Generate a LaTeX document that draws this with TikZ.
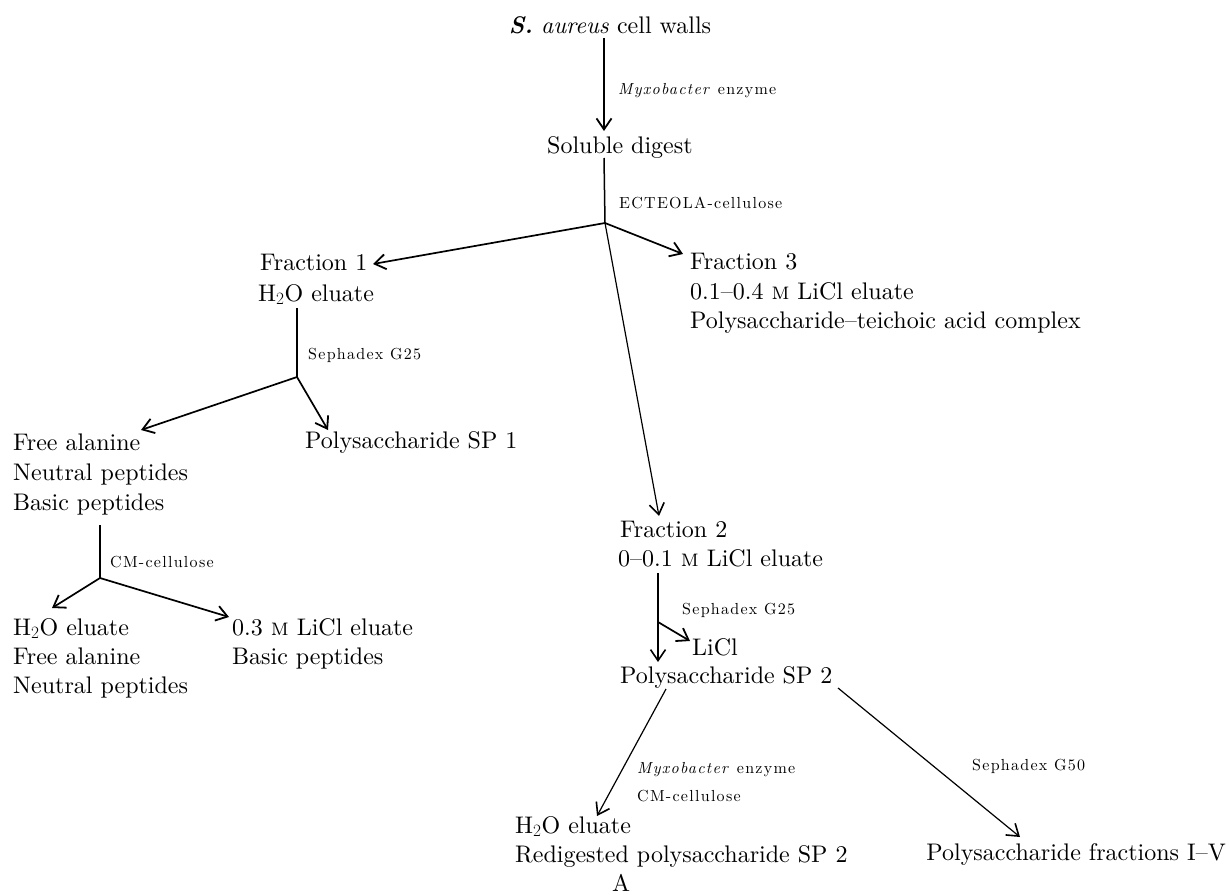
\documentclass[tikz,border=0pt]{standalone}
\usepackage{fontspec}
\setmainfont{lmroman10}[Extension=.otf, UprightFont=*-regular, ItalicFont=*-italic, BoldFont=*-bold, BoldItalicFont=*-bolditalic, SmallCapsFont=lmromancaps10-regular]
\newfontfamily\lblfont{lmroman10}[Extension=.otf, UprightFont=*-regular, ItalicFont=*-italic, LetterSpace=8]
\usetikzlibrary{arrows.meta}
\begin{document}
\begin{tikzpicture}[x=1pt,y=-1pt,
  txt/.style={inner sep=0pt, anchor=base west, font=\fontsize{24}{29}\selectfont},
  lbl/.style={inner sep=0pt, anchor=base west, font=\lblfont\fontsize{16}{19}\selectfont},
  ln/.style={line width=1.5pt},
  arr/.style={line width=1.7pt, -{Straight Barb[length=11pt,width=15pt,line width=1.8pt]}},
  tharr/.style={line width=1.2pt, -{Straight Barb[length=11pt,width=15pt,line width=1.6pt]}}]
\fill[white] (0,0) rectangle (1230,894);
\useasboundingbox (0,0) rectangle (1230,894);

% texts
\node[txt, anchor=base] (walls) at (610,33) {\textbf{\textit{S.}} \textit{aureus} cell walls};
\node[lbl] (myx1) at (618,94) {\textit{Myxobacter} enzyme};
\node[txt] (soluble) at (547,153) {Soluble digest};
\node[lbl] (ecteola) at (619,208) {ECTEOLA-cellulose};

\node[txt] (f1a) at (260,270) {Fraction 1};
\node[txt] (f1b) at (258,301) {H$_2$O eluate};
\node[lbl] (seph1) at (308,359) {Sephadex G25};
\node[txt] (sp1) at (305,448) {Polysaccharide SP 1};
\node[txt] (fa1) at (13,450) {Free alanine};
\node[txt] (np1) at (13,480) {Neutral peptides};
\node[txt] (bp1) at (13,510) {Basic peptides};
\node[lbl] (cm1) at (110,567) {CM-cellulose};
\node[txt] (h2ob) at (13,635) {H$_2$O eluate};
\node[txt] (fa2) at (13,664) {Free alanine};
\node[txt] (np2) at (13,693) {Neutral peptides};
\node[txt] (li03) at (232,635) {0.3 \textsc{m} LiCl eluate};
\node[txt] (bp2) at (232,664) {Basic peptides};

\node[txt] (f3a) at (690,269) {Fraction 3};
\node[txt] (f3b) at (690,299) {0.1--0.4 \textsc{m} LiCl eluate};
\node[txt] (f3c) at (690,328) {Polysaccharide--teichoic acid complex};

\node[txt] (f2a) at (620,537) {Fraction 2};
\node[txt] (f2b) at (618,566) {0--0.1 \textsc{m} LiCl eluate};
\node[lbl] (seph2) at (682,614) {Sephadex G25};
\node[txt] (licl) at (692,655) {LiCl};
\node[txt] (sp2) at (620,683) {Polysaccharide SP 2};
\node[lbl] (myx2) at (637,773) {\textit{Myxobacter} enzyme};
\node[lbl] (cm2) at (637,801) {CM-cellulose};
\node[txt] (h2oc) at (515,833) {H$_2$O eluate};
\node[txt] (redig) at (515,862) {Redigested polysaccharide SP 2};
\node[txt, anchor=base] (A) at (621,891) {A};
\node[lbl] (seph50) at (972,770) {Sephadex G50};
\node[txt, anchor=base east] (frac) at (1226,860) {Polysaccharide fractions I--V};

% connector points
\coordinate (c1s) at (604,38);  \coordinate (c1e) at (604,131);
\coordinate (c2s) at (604,158); \coordinate (b1) at (605,223);
\coordinate (tf1) at (373,264); \coordinate (tf3) at (683,254);
\coordinate (tf2) at (659,516);
\coordinate (c3s) at (297,308); \coordinate (b2) at (297,377);
\coordinate (tsp1) at (328,430); \coordinate (tfa) at (141,430);
\coordinate (c4s) at (100,525); \coordinate (b3) at (100,578);
\coordinate (th2o) at (52,608); \coordinate (tli) at (229,617);
\coordinate (c5s) at (658,573); \coordinate (c5e) at (658,662);
\coordinate (b4) at (658,622);  \coordinate (tlicl) at (690,641);
\coordinate (c6s) at (666,689); \coordinate (th2oc) at (597,816);
\coordinate (c7s) at (838,688); \coordinate (tfrac) at (1020,837);

% connectors
\draw[arr] (c1s) -- (c1e);
\draw[ln] (c2s) -- (b1);
\draw[arr] (b1) -- (tf1);
\draw[arr] (b1) -- (tf3);
\draw[tharr] (b1) -- (tf2);
\draw[ln] (c3s) -- (b2);
\draw[arr] (b2) -- (tsp1);
\draw[arr] (b2) -- (tfa);
\draw[ln] (c4s) -- (b3);
\draw[arr] (b3) -- (th2o);
\draw[arr] (b3) -- (tli);
\draw[tharr] (c5s) -- (c5e);
\draw[arr] (b4) -- (tlicl);
\draw[tharr] (c6s) -- (th2oc);
\draw[tharr] (c7s) -- (tfrac);
\end{tikzpicture}
\end{document}
